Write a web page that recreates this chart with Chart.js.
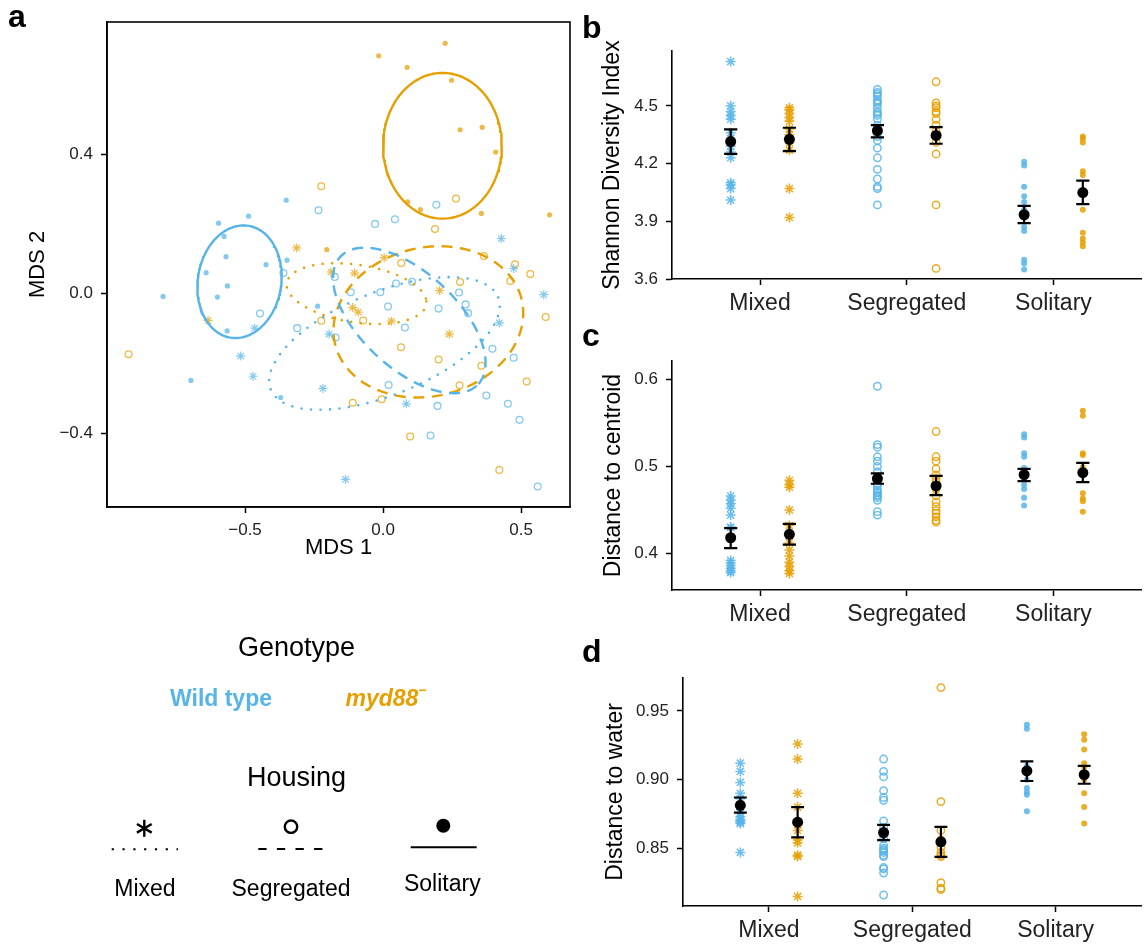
<!DOCTYPE html>
<html><head><meta charset="utf-8">
<script src="https://cdn.jsdelivr.net/npm/chart.js@4.4.1/dist/chart.umd.min.js"></script>
<style>
html,body{margin:0;padding:0;background:#fff;}
#wrap{position:relative;width:1148px;height:945px;overflow:hidden;background:#fff;}
canvas{position:absolute;}
svg{position:absolute;left:0;top:0;pointer-events:none;}
</style></head><body>
<div id="wrap">
<canvas id="ca" width="580" height="565" style="left:0;top:0"></canvas>
<canvas id="cb" width="568" height="320" style="left:580px;top:0"></canvas>
<canvas id="cc" width="568" height="310" style="left:580px;top:320px"></canvas>
<canvas id="cd" width="568" height="315" style="left:580px;top:630px"></canvas>
<svg width="1148" height="945" font-family="Liberation Sans, Arial, Helvetica, sans-serif">
  <text x="8" y="27" font-size="32" font-weight="bold">a</text>
  <text x="582" y="38" font-size="32" font-weight="bold">b</text>
  <text x="582" y="346" font-size="32" font-weight="bold">c</text>
  <text x="582" y="662" font-size="32" font-weight="bold">d</text>
  <text x="296.5" y="656" font-size="27" text-anchor="middle">Genotype</text>
  <text x="221" y="706" font-size="23" font-weight="bold" fill="#56B4E9" text-anchor="middle">Wild type</text>
  <text x="386" y="706" font-size="23" font-weight="bold" font-style="italic" fill="#E69F00" text-anchor="middle">myd88<tspan font-size="14" dy="-11">−</tspan></text>
  <text x="296.5" y="786" font-size="27" text-anchor="middle">Housing</text>
  <g stroke="#000" stroke-width="2.4" stroke-linecap="butt">
    <line x1="144.3" y1="819.8" x2="144.3" y2="836.8"/>
    <line x1="136.9" y1="824" x2="151.7" y2="832.6"/>
    <line x1="136.9" y1="832.6" x2="151.7" y2="824"/>
  </g>
  <circle cx="291" cy="826.7" r="6.2" fill="none" stroke="#000" stroke-width="2.4"/>
  <circle cx="443.3" cy="825.7" r="7" fill="#000"/>
  <line x1="111.7" y1="849.3" x2="178" y2="849.3" stroke="#000" stroke-width="2" stroke-dasharray="2.2 8.6"/>
  <line x1="258.3" y1="849" x2="324" y2="849" stroke="#000" stroke-width="2" stroke-dasharray="8.3 10.3"/>
  <line x1="410.7" y1="847.3" x2="476.7" y2="847.3" stroke="#000" stroke-width="2"/>
  <text x="145" y="896" font-size="23" text-anchor="middle">Mixed</text>
  <text x="291" y="896" font-size="23" text-anchor="middle">Segregated</text>
  <text x="442.3" y="891" font-size="23" text-anchor="middle">Solitary</text>
</svg>
</div>
<script>
// ---------------- DATA ----------------
const housing = ['Mixed', 'Segregated', 'Solitary'];

// Panel a: MDS ordination  [MDS1, MDS2]
const mdsXTicks = [-0.5, 0, 0.5];
const mdsYTicks = [-0.4, 0, 0.4];
const wtSolitaryMDS = [[-0.351,0.268],[-0.487,0.222],[-0.596,0.202],[-0.576,0.164],[-0.569,0.106],[-0.424,0.083],[-0.348,0.096],[-0.641,0.060],[-0.564,0.022],[-0.797,-0.008],[-0.600,-0.010],[-0.237,-0.036],[-0.565,-0.107],[-0.696,-0.249],[-0.371,-0.298]];
const wtSegregatedMDS = [[-0.234,0.239],[-0.361,0.059],[-0.446,-0.057],[-0.311,-0.099],[-0.172,-0.126],[0.193,0.255],[-0.029,0.200],[0.043,0.213],[-0.175,0.048],[0.047,0.029],[0.105,0.034],[-0.117,0.004],[-0.010,0.004],[0.275,0.003],[0.299,-0.031],[0.018,-0.037],[0.201,-0.043],[0.308,-0.056],[0.079,-0.097],[0.396,-0.158],[0.473,-0.184],[0.020,-0.262],[0.374,-0.292],[0.197,-0.322],[0.452,-0.316],[0.494,-0.362],[0.172,-0.407],[0.560,-0.553]];
const wtMixedMDS = [[0.428,0.158],[0.473,0.072],[-0.465,-0.099],[-0.195,-0.116],[-0.516,-0.179],[-0.471,-0.237],[-0.218,-0.272],[0.582,-0.003],[0.421,-0.084],[0.084,-0.316],[-0.136,-0.533]];
const mySolitaryMDS = [[0.225,0.718],[-0.016,0.682],[0.087,0.649],[0.248,0.612],[0.279,0.470],[0.359,0.477],[0.408,0.406],[0.089,0.263],[0.135,0.241],[0.356,0.230],[0.603,0.226],[-0.204,0.126]];
const mySegregatedMDS = [[-0.224,0.308],[0.264,0.273],[0.188,0.185],[0.066,0.088],[0.365,0.108],[0.478,0.084],[-0.224,-0.078],[-0.922,-0.174],[0.533,0.056],[0.461,0.036],[0.279,0.033],[0.589,-0.067],[-0.072,-0.077],[0.065,-0.154],[0.201,-0.189],[0.356,-0.207],[0.520,-0.252],[0.277,-0.263],[-0.110,-0.313],[-0.005,-0.303],[0.098,-0.410],[0.421,-0.506]];
const myMixedMDS = [[-0.313,0.131],[-0.634,-0.077],[0.004,0.103],[-0.103,0.059],[-0.189,0.062],[0.205,0.009],[-0.110,-0.040],[-0.090,-0.053],[0.030,-0.079],[0.240,-0.116]];
// ellipse parameters (centre and two conjugate half-axis vectors, in MDS units)
const ellipseCentres = [[-0.520,0.034],[0.215,0.424],[-0.096,0.000],[0.005,-0.143],[0.095,-0.077],[0.164,-0.081]];
const ellipseU = [[0.152,0.000],[0.215,0.000],[0.251,-0.014],[0.412,0.132],[0.250,-0.1825],[0.343,0.0115]];
const ellipseV = [[0.0145,0.1615],[0.000,0.209],[-0.034,0.086],[0.069,-0.137],[0.1175,0.1013],[0.0217,0.2166]];
const ellipseGroup = [['wt','Solitary'],['my','Solitary'],['my','Mixed'],['wt','Mixed'],['wt','Segregated'],['my','Segregated']];

// Panel b: Shannon diversity (per housing: Mixed, Segregated, Solitary)
const shannonTicks = [3.6, 3.9, 4.2, 4.5];
const shannonWT = [
  [4.73,4.50,4.47,4.45,4.43,4.36,4.33,4.29,4.26,4.23,4.10,4.09,4.07,4.01],
  [4.585,4.57,4.56,4.55,4.53,4.52,4.51,4.49,4.47,4.46,4.45,4.43,4.40,4.38,4.36,4.34,4.32,4.28,4.23,4.17,4.12,4.08,4.07,3.985],
  [4.21,4.19,4.08,4.03,4.00,3.96,3.87,3.85,3.70,3.68,3.65]];
const shannonMY = [
  [4.49,4.48,4.46,4.44,4.42,4.38,4.35,4.31,4.27,4.07,3.92],
  [4.625,4.515,4.50,4.49,4.47,4.46,4.43,4.40,4.37,4.34,4.31,4.25,3.985,3.655],
  [4.34,4.33,4.31,4.16,4.14,4.05,3.96,3.84,3.81,3.79,3.77]];
const shannonMeanWT = [4.314, 4.371, 3.934], shannonLoWT = [4.250, 4.336, 3.890], shannonHiWT = [4.378, 4.400, 3.980];
const shannonMeanMY = [4.326, 4.346, 4.049], shannonLoMY = [4.265, 4.303, 3.989], shannonHiMY = [4.386, 4.389, 4.111];

// Panel c: distance to centroid
const centroidTicks = [0.4, 0.5, 0.6];
const centroidWT = [
  [0.466,0.461,0.457,0.452,0.444,0.430,0.430,0.392,0.389,0.386,0.383,0.380,0.378],
  [0.592,0.525,0.522,0.511,0.506,0.500,0.494,0.488,0.484,0.480,0.477,0.473,0.470,0.470,0.467,0.466,0.464,0.461,0.448,0.444],
  [0.537,0.533,0.515,0.511,0.498,0.491,0.486,0.479,0.474,0.464,0.455]];
const centroidMY = [
  [0.484,0.479,0.476,0.450,0.432,0.422,0.412,0.404,0.397,0.390,0.385,0.380,0.377],
  [0.540,0.511,0.506,0.497,0.490,0.486,0.482,0.474,0.466,0.459,0.454,0.449,0.446,0.442,0.438,0.436],
  [0.564,0.558,0.515,0.513,0.499,0.490,0.469,0.463,0.460,0.448]];
const centroidMeanWT = [0.418, 0.486, 0.4905], centroidLoWT = [0.406, 0.480, 0.483], centroidHiWT = [0.429, 0.492, 0.497];
const centroidMeanMY = [0.422, 0.4775, 0.4927], centroidLoMY = [0.410, 0.467, 0.482], centroidHiMY = [0.434, 0.489, 0.504];

// Panel d: distance to water
const waterTicks = [0.85, 0.90, 0.95];
const waterWT = [
  [0.912,0.906,0.898,0.890,0.886,0.880,0.876,0.873,0.871,0.870,0.869,0.868,0.847],
  [0.915,0.906,0.902,0.892,0.887,0.885,0.870,0.865,0.860,0.857,0.852,0.850,0.849,0.848,0.847,0.845,0.844,0.836,0.835,0.832,0.816],
  [0.940,0.937,0.910,0.906,0.900,0.894,0.891,0.889,0.877]];
const waterMY = [
  [0.926,0.915,0.890,0.880,0.867,0.863,0.856,0.854,0.845,0.844,0.815],
  [0.967,0.884,0.863,0.856,0.851,0.847,0.845,0.844,0.825,0.821,0.820],
  [0.933,0.929,0.922,0.912,0.909,0.900,0.890,0.880,0.868]];
const waterMeanWT = [0.8813, 0.8615, 0.9063], waterLoWT = [0.876, 0.856, 0.899], waterHiWT = [0.887, 0.867, 0.9133];
const waterMeanMY = [0.869, 0.8547, 0.9036], waterLoMY = [0.858, 0.8438, 0.897], waterHiMY = [0.880, 0.8656, 0.910];

// ---------------- STYLE / HELPERS ----------------
const FONT = '"Liberation Sans", Arial, Helvetica, sans-serif';
const COL = {wt: '#56B4E9', my: '#E69F00'};
function rgba(hex, a){ const n = parseInt(hex.slice(1),16); return `rgba(${n>>16&255},${n>>8&255},${n&255},${a})`; }
function fmt(d){ return v => (Math.abs(v) < 1e-9 ? (0).toFixed(d) : v.toFixed(d)).replace('-', '\u2212'); }

function axis(o){
  return {
    type: 'linear', min: o.min, max: o.max, position: o.pos,
    afterBuildTicks: s => { s.ticks = o.ticks.map(v => ({value: v})); },
    afterFit: s => { if (o.pos === 'bottom') s.height = o.size; else s.width = o.size; },
    grid: {drawOnChartArea: false, drawTicks: true, tickLength: 6, tickWidth: 1.5, tickColor: '#000', color: '#000'},
    border: {display: true, color: '#000', width: 1.6},
    ticks: {font: {family: FONT, size: o.tickSize}, color: '#222', padding: o.tickPad, autoSkip: false, maxRotation: 0, callback: o.fmt},
    title: {display: true, text: o.title, color: '#000', font: {family: FONT, size: o.titleSize}, padding: o.titlePad}
  };
}

function pointStyleFor(h, color, alpha, big){
  if (h === 'Mixed') return {pointStyle: 'star', pointRadius: big ? 5 : 4.5, pointBorderWidth: big ? 1.5 : 1.2, pointBorderColor: rgba(color, alpha), pointBackgroundColor: rgba(color, alpha)};
  if (h === 'Segregated') return {pointStyle: 'circle', pointRadius: big ? 3.7 : 3.4, pointBorderWidth: big ? 1.5 : 1.3, pointBorderColor: rgba(color, alpha), pointBackgroundColor: 'rgba(0,0,0,0)'};
  return {pointStyle: 'circle', pointRadius: big ? 3 : 2.6, pointBorderWidth: 0, pointBorderColor: rgba(color, alpha), pointBackgroundColor: rgba(color, alpha)};
}

const basePlugins = {legend: {display: false}, tooltip: {enabled: false}};

// ---------------- PANEL a ----------------
const boxPlugin = {id: 'box', afterDraw(chart){ const {ctx, chartArea: a} = chart; ctx.save(); ctx.strokeStyle = '#000'; ctx.lineWidth = 1.6; ctx.strokeRect(a.left, a.top, a.right - a.left, a.bottom - a.top); ctx.restore(); }};

function ellipsePts(i){
  const c = ellipseCentres[i], u = ellipseU[i], v = ellipseV[i], pts = [];
  for (let k = 0; k <= 160; k++){ const t = k / 160 * 2 * Math.PI; pts.push({x: c[0] + u[0]*Math.cos(t) + v[0]*Math.sin(t), y: c[1] + u[1]*Math.cos(t) + v[1]*Math.sin(t)}); }
  return pts;
}
const dashFor = {Mixed: [0.01, 9.5], Segregated: [11, 7.5], Solitary: []};

const mdsGroups = [['wt','Solitary',wtSolitaryMDS],['wt','Segregated',wtSegregatedMDS],['wt','Mixed',wtMixedMDS],['my','Solitary',mySolitaryMDS],['my','Segregated',mySegregatedMDS],['my','Mixed',myMixedMDS]];
const dsA = [];
mdsGroups.forEach(([g, h, arr]) => {
  dsA.push(Object.assign({data: arr.map(p => ({x: p[0], y: p[1]})), showLine: false, order: 2}, pointStyleFor(h, COL[g], 0.72, false)));
});
ellipseGroup.forEach(([g, h], i) => {
  dsA.push({data: ellipsePts(i), showLine: true, pointRadius: 0, borderColor: COL[g], borderWidth: h === 'Mixed' ? 2.6 : 2.4,
    borderDash: dashFor[h], borderCapStyle: h === 'Mixed' ? 'round' : 'butt', tension: 0, fill: false, order: 0});
});

new Chart(document.getElementById('ca'), {
  type: 'scatter',
  data: {datasets: dsA},
  options: {
    responsive: false, animation: false, events: [],
    layout: {padding: {top: 22, right: 10, left: 0, bottom: 0}},
    plugins: basePlugins,
    scales: {
      x: axis({min: -1.0, max: 0.677, pos: 'bottom', ticks: mdsXTicks, size: 58, tickSize: 17, tickPad: 7, fmt: fmt(1), title: 'MDS 1', titleSize: 22, titlePad: {top: 0, bottom: 4}}),
      y: axis({min: -0.612, max: 0.779, pos: 'left', ticks: mdsYTicks, size: 107, tickSize: 17, tickPad: 8, fmt: fmt(1), title: 'MDS 2', titleSize: 22, titlePad: {top: 25, bottom: 0}})
    }
  },
  plugins: [boxPlugin]
});

// ---------------- PANELS b, c, d ----------------
function dotPanel(id, cfg){
  const ds = [];
  const dodge = {wt: -0.2, my: 0.2};
  const cap = 0.045;
  const err = [], means = [];
  [['wt', cfg.wt, cfg.meanWT, cfg.loWT, cfg.hiWT], ['my', cfg.my, cfg.meanMY, cfg.loMY, cfg.hiMY]].forEach(([g, vals, m, lo, hi]) => {
    housing.forEach((h, i) => {
      const x = i + 1 + dodge[g];
      ds.push(Object.assign({data: vals[i].map(v => ({x, y: v})), showLine: false, order: 3}, pointStyleFor(h, COL[g], 0.85, true)));
      means.push({x, y: m[i]});
      err.push({x, y: lo[i]}, {x, y: hi[i]}, {x, y: null},
               {x: x - cap, y: lo[i]}, {x: x + cap, y: lo[i]}, {x, y: null},
               {x: x - cap, y: hi[i]}, {x: x + cap, y: hi[i]}, {x, y: null});
    });
  });
  ds.push({data: err, showLine: true, spanGaps: false, pointRadius: 0, borderColor: '#000', borderWidth: 2.2, order: 1});
  ds.push({data: means, showLine: false, pointRadius: 5.5, pointBackgroundColor: '#000', pointBorderWidth: 0, order: 0});
  new Chart(document.getElementById(id), {
    type: 'scatter',
    data: {datasets: ds},
    options: {
      responsive: false, animation: false, events: [],
      layout: {padding: {top: cfg.padTop, right: 3, left: 0, bottom: 0}},
      plugins: basePlugins,
      scales: {
        x: Object.assign(axis({min: 0.4, max: 3.6, pos: 'bottom', ticks: [1, 2, 3], size: cfg.xH, tickSize: 23, tickPad: 5, fmt: v => housing[Math.round(v) - 1], title: '', titleSize: 10, titlePad: 0}), {title: {display: false}}),
        y: axis({min: cfg.min, max: cfg.max, pos: 'left', ticks: cfg.ticks, size: cfg.yW, tickSize: 17, tickPad: 8, fmt: fmt(cfg.dec), title: cfg.title, titleSize: 23, titlePad: {top: cfg.tPad, bottom: 0}})
      }
    }
  });
}

dotPanel('cb', {wt: shannonWT, my: shannonMY, meanWT: shannonMeanWT, loWT: shannonLoWT, hiWT: shannonHiWT, meanMY: shannonMeanMY, loMY: shannonLoMY, hiMY: shannonHiMY,
  min: 3.6, max: 4.785, ticks: shannonTicks, dec: 1, title: 'Shannon Diversity Index', padTop: 51, xH: 41, yW: 92, tPad: 19});
dotPanel('cc', {wt: centroidWT, my: centroidMY, meanWT: centroidMeanWT, loWT: centroidLoWT, hiWT: centroidHiWT, meanMY: centroidMeanMY, loMY: centroidLoMY, hiMY: centroidHiMY,
  min: 0.358, max: 0.621, ticks: centroidTicks, dec: 1, title: 'Distance to centroid', padTop: 41, xH: 40, yW: 92, tPad: 20});
dotPanel('cd', {wt: waterWT, my: waterMY, meanWT: waterMeanWT, loWT: waterLoWT, hiWT: waterHiWT, meanMY: waterMeanMY, loMY: waterLoMY, hiMY: waterHiMY,
  min: 0.808, max: 0.974, ticks: waterTicks, dec: 2, title: 'Distance to water', padTop: 48, xH: 39, yW: 103, tPad: 22});
</script>
</body></html>
